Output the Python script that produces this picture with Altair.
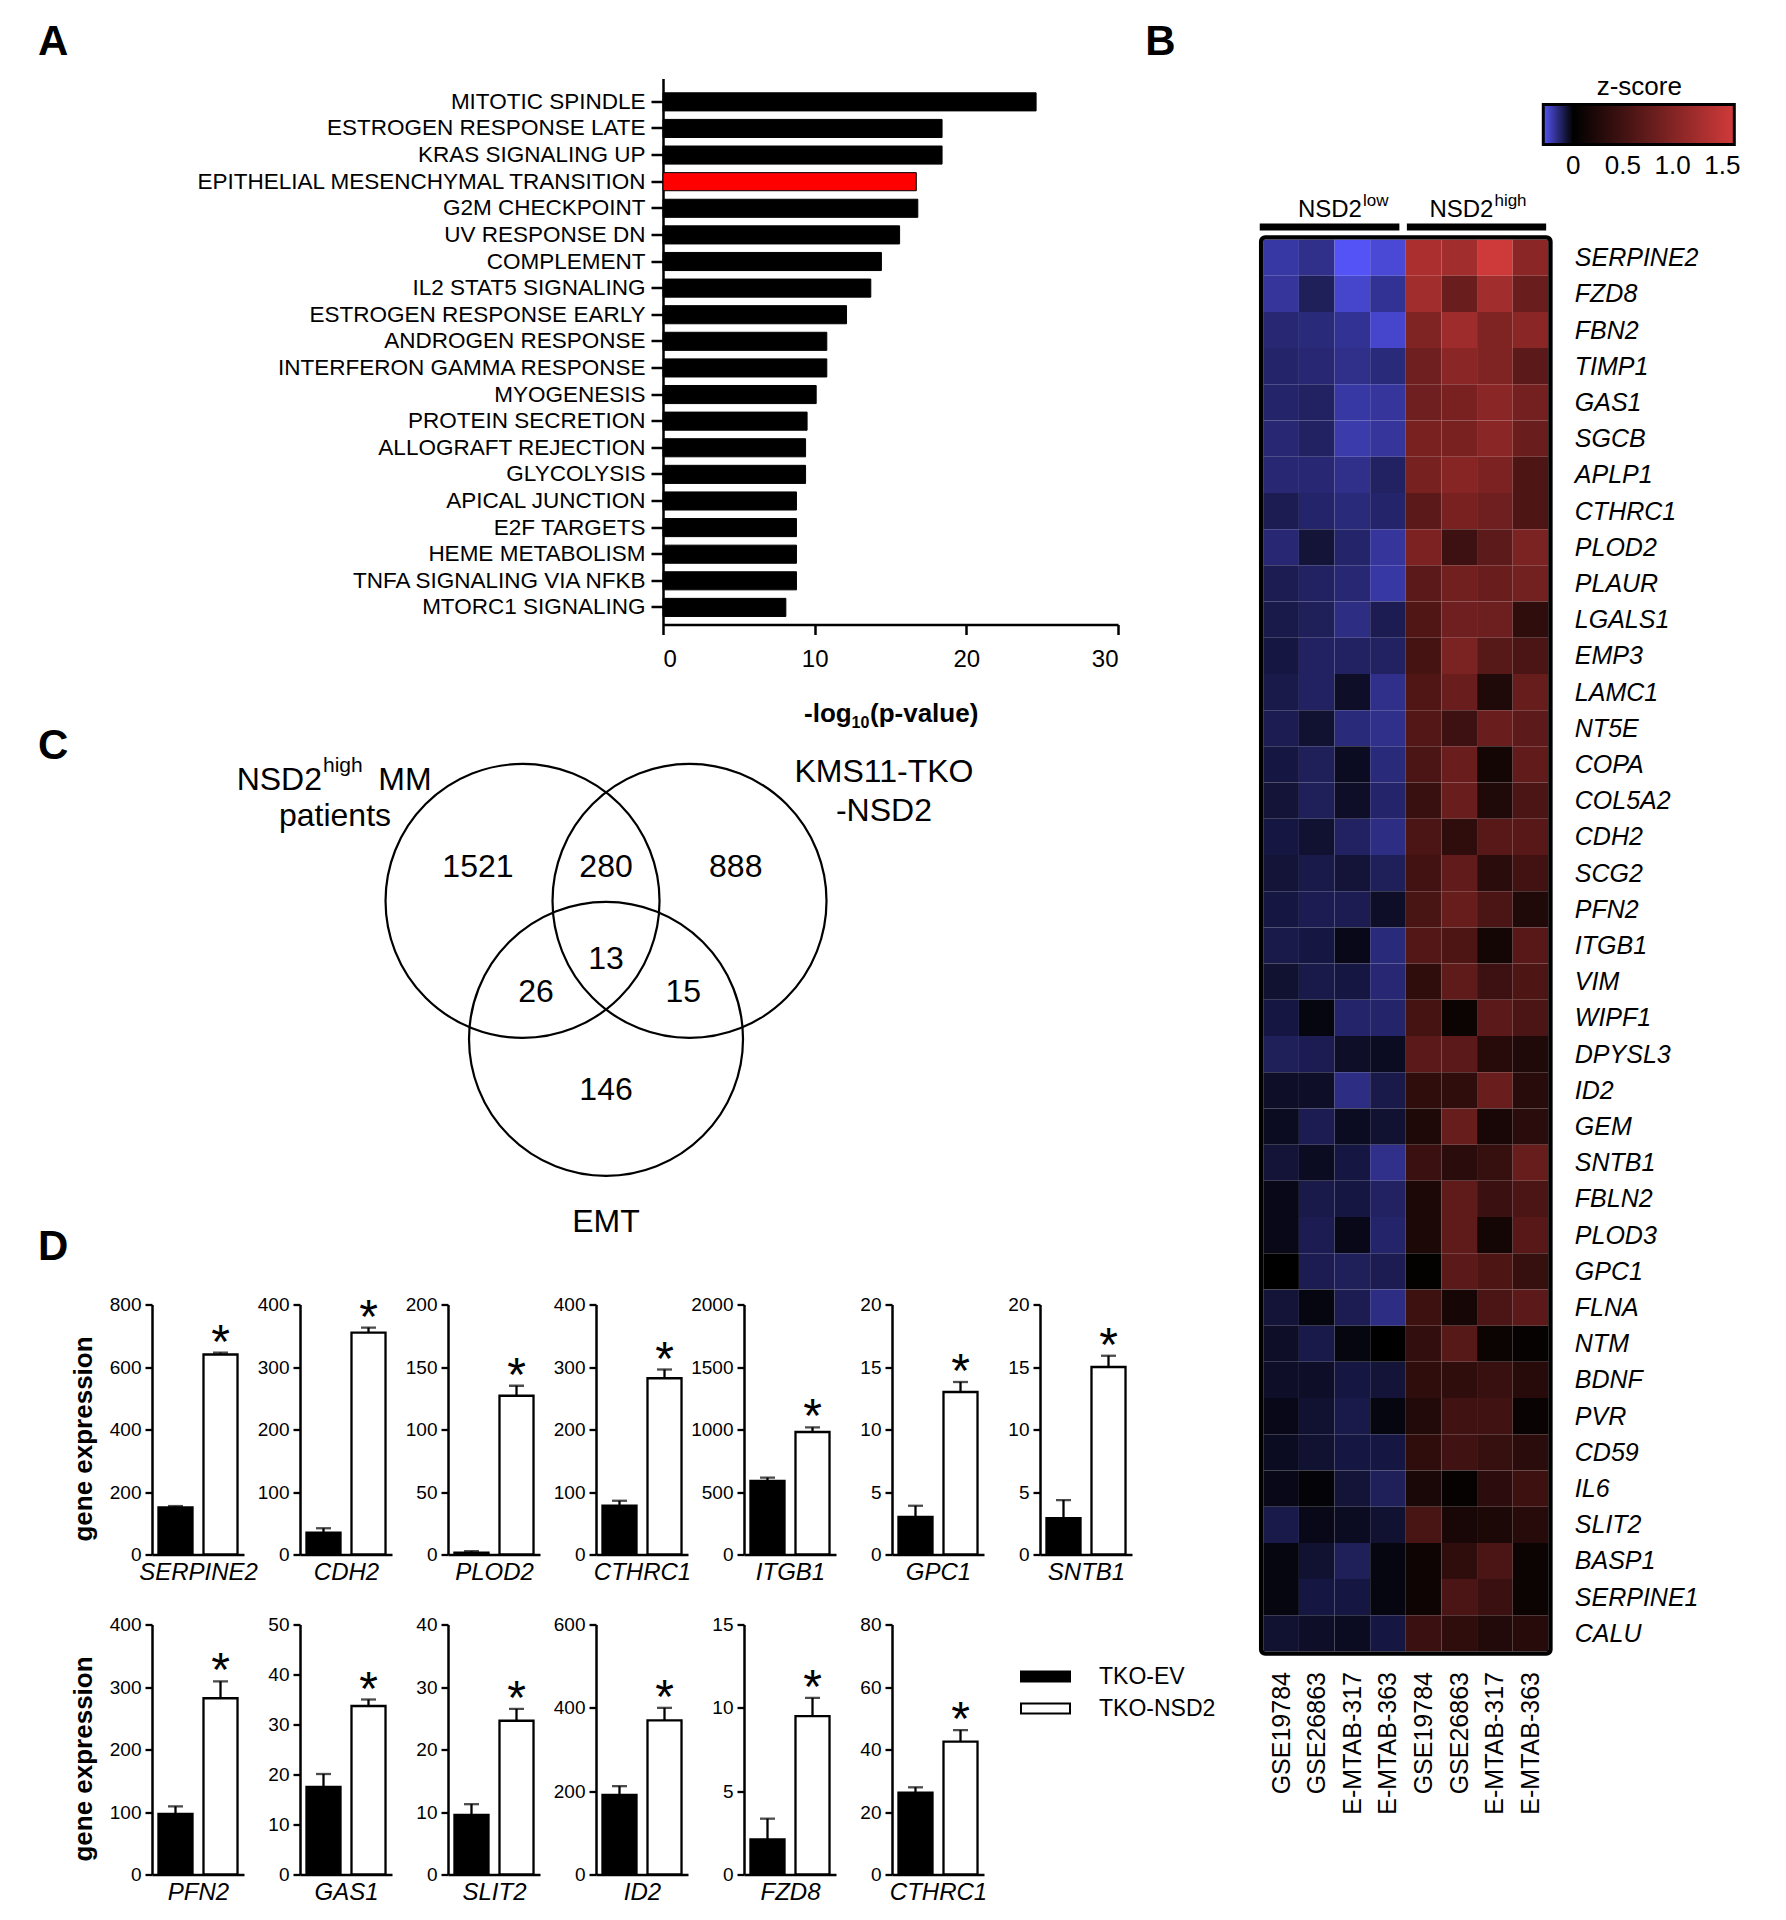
import json
import altair as alt
import pandas as pd

FONT = "Liberation Sans"

# ---------------- Panel A : hallmark enrichment ----------------
pathways = ["MITOTIC SPINDLE", "ESTROGEN RESPONSE LATE", "KRAS SIGNALING UP",
            "EPITHELIAL MESENCHYMAL TRANSITION", "G2M CHECKPOINT", "UV RESPONSE DN",
            "COMPLEMENT", "IL2 STAT5 SIGNALING", "ESTROGEN RESPONSE EARLY",
            "ANDROGEN RESPONSE", "INTERFERON GAMMA RESPONSE", "MYOGENESIS",
            "PROTEIN SECRETION", "ALLOGRAFT REJECTION", "GLYCOLYSIS", "APICAL JUNCTION",
            "E2F TARGETS", "HEME METABOLISM", "TNFA SIGNALING VIA NFKB", "MTORC1 SIGNALING"]
neglog10p = [24.6, 18.4, 18.4, 16.7, 16.8, 15.6, 14.4, 13.7, 12.1, 10.8,
             10.8, 10.1, 9.5, 9.4, 9.4, 8.8, 8.8, 8.8, 8.8, 8.1]
highlight = "EPITHELIAL MESENCHYMAL TRANSITION"
axisA_ticks = [0, 10, 20, 30]
axisA_title_parts = ["-log", "10", "(p-value)"]

# ---------------- Panel B : heatmap ----------------
genes = ["SERPINE2", "FZD8", "FBN2", "TIMP1", "GAS1", "SGCB", "APLP1", "CTHRC1", "PLOD2",
         "PLAUR", "LGALS1", "EMP3", "LAMC1", "NT5E", "COPA", "COL5A2", "CDH2", "SCG2",
         "PFN2", "ITGB1", "VIM", "WIPF1", "DPYSL3", "ID2", "GEM", "SNTB1", "FBLN2",
         "PLOD3", "GPC1", "FLNA", "NTM", "BDNF", "PVR", "CD59", "IL6", "SLIT2", "BASP1",
         "SERPINE1", "CALU"]
datasets = ["GSE19784", "GSE26863", "E-MTAB-317", "E-MTAB-363"]
sample_labels = datasets + datasets
z_low = [
    [-0.20, -0.17, -0.31, -0.26], [-0.19, -0.11, -0.25, -0.18], [-0.14, -0.15, -0.18, -0.25],
    [-0.13, -0.14, -0.17, -0.15], [-0.13, -0.12, -0.20, -0.19], [-0.14, -0.12, -0.21, -0.19],
    [-0.14, -0.14, -0.17, -0.12], [-0.10, -0.13, -0.15, -0.13], [-0.14, -0.07, -0.13, -0.19],
    [-0.10, -0.12, -0.14, -0.20], [-0.09, -0.11, -0.16, -0.10], [-0.08, -0.12, -0.12, -0.12],
    [-0.09, -0.12, -0.05, -0.17], [-0.10, -0.06, -0.15, -0.17], [-0.08, -0.11, -0.04, -0.15],
    [-0.07, -0.11, -0.05, -0.13], [-0.08, -0.06, -0.12, -0.16], [-0.07, -0.09, -0.07, -0.11],
    [-0.08, -0.10, -0.10, -0.05], [-0.09, -0.08, -0.03, -0.15], [-0.06, -0.09, -0.08, -0.14],
    [-0.08, -0.02, -0.13, -0.13], [-0.11, -0.10, -0.05, -0.04], [-0.05, -0.05, -0.16, -0.09],
    [-0.04, -0.10, -0.04, -0.06], [-0.07, -0.04, -0.08, -0.17], [-0.03, -0.09, -0.08, -0.12],
    [-0.03, -0.10, -0.03, -0.13], [0.00, -0.10, -0.11, -0.10], [-0.07, -0.02, -0.10, -0.16],
    [-0.05, -0.09, -0.02, 0.00], [-0.05, -0.05, -0.08, -0.07], [-0.03, -0.06, -0.09, -0.02],
    [-0.04, -0.06, -0.08, -0.08], [-0.03, -0.01, -0.07, -0.11], [-0.09, -0.03, -0.04, -0.06],
    [-0.02, -0.06, -0.11, -0.02], [-0.02, -0.08, -0.08, -0.02], [-0.06, -0.05, -0.04, -0.08],
]
z_high = [
    [1.32, 1.25, 1.59, 1.07], [1.25, 0.82, 1.25, 0.82], [0.98, 1.23, 0.99, 1.07],
    [0.86, 1.07, 0.99, 0.70], [0.86, 0.93, 1.07, 0.90], [0.93, 0.93, 1.07, 0.82],
    [0.92, 1.04, 0.96, 0.60], [0.70, 0.93, 0.86, 0.60], [0.96, 0.47, 0.72, 0.95],
    [0.70, 0.87, 0.82, 0.89], [0.62, 0.86, 0.84, 0.37], [0.54, 0.95, 0.67, 0.58],
    [0.62, 0.82, 0.25, 0.80], [0.65, 0.47, 0.82, 0.72], [0.58, 0.82, 0.16, 0.75],
    [0.44, 0.82, 0.25, 0.58], [0.58, 0.37, 0.68, 0.68], [0.51, 0.75, 0.33, 0.51],
    [0.56, 0.80, 0.58, 0.25], [0.64, 0.60, 0.16, 0.68], [0.37, 0.73, 0.47, 0.60],
    [0.54, 0.09, 0.70, 0.58], [0.70, 0.70, 0.30, 0.25], [0.37, 0.37, 0.82, 0.31],
    [0.23, 0.80, 0.19, 0.33], [0.45, 0.33, 0.42, 0.80], [0.22, 0.73, 0.45, 0.58],
    [0.22, 0.73, 0.16, 0.68], [0.03, 0.70, 0.60, 0.42], [0.48, 0.17, 0.58, 0.70],
    [0.39, 0.67, 0.09, 0.05], [0.37, 0.36, 0.44, 0.30], [0.27, 0.50, 0.50, 0.08],
    [0.37, 0.50, 0.42, 0.33], [0.20, 0.05, 0.34, 0.48], [0.56, 0.19, 0.22, 0.30],
    [0.11, 0.37, 0.58, 0.09], [0.11, 0.58, 0.45, 0.09], [0.45, 0.36, 0.27, 0.30],
]
zscore_ticks = [0, 0.5, 1.0, 1.5]
nsd2_groups = ["low", "high"]

# ---------------- Panel C : Venn ----------------
venn_sets = ["NSD2high MM patients", "KMS11-TKO-NSD2", "EMT"]
venn_cx = [-0.605, 0.605, 0.0]
venn_cy = [0.5, 0.5, -0.5]
venn_counts = ["1521", "280", "888", "13", "26", "15", "146"]
venn_count_x = [-0.928, 0.0, 0.94, 0.0, -0.507, 0.56, 0.0]
venn_count_y = [0.745, 0.745, 0.745, 0.081, -0.161, -0.161, -0.873]

# ---------------- Panel D : qPCR bars ----------------
groups_d = ["TKO-EV", "TKO-NSD2"]
row1_genes = ["SERPINE2", "CDH2", "PLOD2", "CTHRC1", "ITGB1", "GPC1", "SNTB1"]
row1_ymax = [800, 400, 200, 400, 2000, 20, 20]
row1_step = [200, 100, 50, 100, 500, 5, 5]
row1_ev = [151, 35, 1.5, 78, 589, 3.0, 2.9]
row1_ev_err = [4, 7, 1.2, 8, 26, 0.9, 1.45]
row1_nsd2 = [640, 355, 127, 282, 980, 13.0, 15.0]
row1_nsd2_err = [6, 8, 8, 14, 37, 0.8, 0.9]

row2_genes = ["PFN2", "GAS1", "SLIT2", "ID2", "FZD8", "CTHRC1"]
row2_ymax = [400, 50, 40, 600, 15, 80]
row2_step = [100, 10, 10, 200, 5, 20]
row2_ev = [97, 17.5, 9.55, 191, 2.1, 26.2]
row2_ev_err = [12, 2.6, 1.7, 21, 1.25, 1.7]
row2_nsd2 = [282, 33.7, 24.6, 370, 9.5, 42.5]
row2_nsd2_err = [27, 1.3, 1.9, 30, 1.1, 3.7]

panel_letters = ["A", "B", "C", "D"]

COL_W = 92      # width of one small bar panel
COL_GAP = 56    # gap between grid columns
A_LEFT = 511    # panel A axis position inside the first grid column
HEAT_SHIFT = 75.3
HEAT_CELL = 285 / 8.0
ZLO, ZHI = -0.3, 1.62
GRAD_X, GRAD_LEN = 280, 191


def letter(ch, x, y):
    return alt.Chart(pd.DataFrame({"t": [ch]})).mark_text(
        fontSize=42, fontWeight="bold", align="left", baseline="top", color="black"
    ).encode(text="t:N", x=alt.value(x), y=alt.value(y))


def dummy():
    return alt.Chart(pd.DataFrame({"v": [0]})).mark_point(opacity=0).encode(
        x=alt.X("v:Q", axis=None), y=alt.Y("v:Q", axis=None)
    ).properties(width=1, height=1)


# ----- A -----
dfA = pd.DataFrame({"pathway": pathways, "value": neglog10p})
axA_y = alt.Axis(labelFontSize=22.5, labelPadding=6, labelLimit=800, tickSize=12,
                 tickWidth=2.5, domainWidth=2.5, title=None, offset=-A_LEFT)
axA_x = alt.Axis(values=axisA_ticks, tickSize=10, tickWidth=2.5, domainWidth=2.5,
                 labelFontSize=24, labelPadding=13, title=None)
barA_core = alt.Chart(dfA).mark_bar(stroke="black", strokeWidth=1).encode(
    y=alt.Y("pathway:N", sort=pathways,
            scale=alt.Scale(paddingInner=0.32, paddingOuter=0.42, align=0.64), axis=axA_y),
    x=alt.X("value:Q", scale=alt.Scale(domain=[0, 30], nice=False, range=[A_LEFT, A_LEFT + 455]),
            axis=axA_x),
    fill=alt.condition(alt.datum.pathway == highlight, alt.value("#ff0000"), alt.value("#000000")),
)
t1 = alt.Chart(pd.DataFrame({"t": [axisA_title_parts[0]]})).mark_text(
    fontSize=26, fontWeight="bold", align="left", baseline="alphabetic", color="black"
).encode(text="t:N", x=alt.value(652), y=alt.value(643))
t2 = alt.Chart(pd.DataFrame({"t": [axisA_title_parts[1]]})).mark_text(
    fontSize=16, fontWeight="bold", align="left", baseline="alphabetic", color="black"
).encode(text="t:N", x=alt.value(699.5), y=alt.value(649))
t3 = alt.Chart(pd.DataFrame({"t": [axisA_title_parts[2]]})).mark_text(
    fontSize=26, fontWeight="bold", align="left", baseline="alphabetic", color="black"
).encode(text="t:N", x=alt.value(718), y=alt.value(643))
barA = alt.layer(barA_core, t1, t2, t3, letter(panel_letters[0], -114, -56.5)).properties(
    width=COL_W, height=546)

# ----- B -----
rows = []
for i, g in enumerate(genes):
    for j in range(4):
        rows.append({"gene": g, "r0": i, "r1": i + 1, "c0": j, "c1": j + 1, "z": z_low[i][j]})
        rows.append({"gene": g, "r0": i, "r1": i + 1, "c0": 4 + j, "c1": 5 + j, "z": z_high[i][j]})
dfH = pd.DataFrame(rows)

hx = alt.Scale(domain=[0, 8], nice=False, zero=False, range=[HEAT_SHIFT, HEAT_SHIFT + 285])
hy = alt.Scale(domain=[0, 39], range=[161, 1573], nice=False, zero=False)
col_axis = alt.Axis(values=[i + 0.5 for i in range(8)],
                    labelExpr=json.dumps(sample_labels) + "[floor(datum.value)]",
                    labelAngle=270, labelFontSize=25, labelPadding=20, ticks=False,
                    domain=False, title=None, offset=1027, labelOverlap=False, grid=False)
gene_axis = alt.Axis(orient="right", values=[i + 0.5 for i in range(39)],
                     labelExpr=json.dumps(genes) + "[floor(datum.value)]",
                     labelFontSize=25, labelFontStyle="italic", labelPadding=26, ticks=False,
                     domain=False, title=None, labelOverlap=False, grid=False)
zlegend = alt.Legend(orient="none", legendX=GRAD_X + HEAT_SHIFT, legendY=-5,
                     direction="horizontal",
                     gradientLength=GRAD_LEN, gradientThickness=40, gradientStrokeColor="black",
                     gradientStrokeWidth=3, title="z-score", titleFontSize=26,
                     titleFontWeight="normal", titleAnchor="middle", titlePadding=5,
                     titleColor="black", labelFontSize=26, labelColor="black", labelOffset=8,
                     values=zscore_ticks, labelOverlap=False,
                     labelExpr="datum.value == 0 ? '0' : format(datum.value, '.1f')")
cells = alt.Chart(dfH).mark_rect().encode(
    x=alt.X("c0:Q", scale=hx, axis=col_axis), x2="c1:Q",
    y=alt.Y("r0:Q", scale=hy, axis=gene_axis), y2="r1:Q",
    color=alt.Color("z:Q", scale=alt.Scale(domain=[ZLO, 0, ZHI],
                                           range=["#5454f6", "#000000", "#d23a3a"],
                                           interpolate="rgb", clamp=True), legend=zlegend),
)
border = alt.Chart(pd.DataFrame({"x0": [-0.06], "x1": [8.06], "y0": [-0.06], "y1": [39.06]})).mark_rect(
    fillOpacity=0, stroke="black", strokeWidth=4.4, cornerRadius=4
).encode(x=alt.X("x0:Q", scale=hx, axis=col_axis), x2="x1:Q",
         y=alt.Y("y0:Q", scale=hy, axis=gene_axis), y2="y1:Q")
dfG = pd.DataFrame({"grp": nsd2_groups, "x0": [-0.1, 4.03], "x1": [3.82, 7.94],
                    "xl": [2.77, 6.46]})
gbars = alt.Chart(dfG).mark_rule(color="black", strokeWidth=7).encode(
    x=alt.X("x0:Q", scale=hx, axis=col_axis), x2="x1:Q", y=alt.value(148.5))
glab = alt.Chart(dfG).mark_text(text="NSD2", align="right", baseline="alphabetic",
                                fontSize=24, color="black").encode(
    x=alt.X("xl:Q", scale=hx, axis=col_axis), y=alt.value(138.7))
gsup = alt.Chart(dfG).mark_text(align="left", baseline="alphabetic", fontSize=17,
                                color="black", dx=1).encode(
    x=alt.X("xl:Q", scale=hx, axis=col_axis), y=alt.value(127.7), text="grp:N")
# small tick marks drawn inside the colour bar at the labelled z-scores
tick_df = pd.DataFrame({"v": zscore_ticks})
zt_base = alt.Chart(tick_df).transform_calculate(
    xd=f"({GRAD_X} + {GRAD_LEN} * (datum.v - ({ZLO})) / ({ZHI} - ({ZLO}))) / {HEAT_CELL}")
zt_top = zt_base.mark_rule(color="black", strokeWidth=2).encode(
    x=alt.X("xd:Q", scale=hx, axis=col_axis), y=alt.value(26), y2=alt.value(35))
zt_bot = zt_base.mark_rule(color="black", strokeWidth=2).encode(
    x=alt.X("xd:Q", scale=hx, axis=col_axis), y=alt.value(57), y2=alt.value(66))
heat = alt.layer(cells, border, gbars, glab, gsup, zt_top, zt_bot,
                 letter(panel_letters[1], -118 + HEAT_SHIFT, -56.5)).properties(
    width=HEAT_SHIFT + 285, height=546)

# ----- C -----
xs_v = alt.Scale(domain=[-3.290, 3.710], nice=False, zero=False, range=[0, 966])
ys_v = alt.Scale(domain=[-1.917, 1.996], nice=False, zero=False)
dfC = pd.DataFrame({"set": venn_sets, "cx": venn_cx, "cy": venn_cy})
circles = alt.Chart(dfC).mark_point(shape="circle", filled=False, size=274 * 274,
                                    color="black", strokeWidth=2.2, opacity=1).encode(
    x=alt.X("cx:Q", scale=xs_v, axis=None), y=alt.Y("cy:Q", scale=ys_v, axis=None))
dfN = pd.DataFrame({"t": venn_counts, "x": venn_count_x, "y": venn_count_y})
counts = alt.Chart(dfN).mark_text(fontSize=32, baseline="middle", color="black").encode(
    x=alt.X("x:Q", scale=xs_v, axis=None), y=alt.Y("y:Q", scale=ys_v, axis=None), text="t:N")
dfL = pd.DataFrame({
    "t": ["NSD2", "high", "MM", "patients", "KMS11-TKO", "-NSD2", "EMT"],
    "x": [-2.058, -2.051, -1.650, -1.964, 2.014, 2.014, 0.0],
    "y": [1.373, 1.475, 1.373, 1.112, 1.437, 1.149, -1.828],
    "a": ["right", "left", "left", "center", "center", "center", "center"],
    "s": [32, 21, 32, 32, 32, 32, 32],
})
vlabels = []
for al in ["right", "left", "center"]:
    for sz in [32, 21]:
        sub = dfL[(dfL["a"] == al) & (dfL["s"] == sz)]
        if len(sub) == 0:
            continue
        vlabels.append(alt.Chart(sub).mark_text(fontSize=sz, align=al, baseline="middle",
                                                color="black").encode(
            x=alt.X("x:Q", scale=xs_v, axis=None), y=alt.Y("y:Q", scale=ys_v, axis=None),
            text="t:N"))
venn = alt.layer(circles, counts, *vlabels,
                 letter(panel_letters[2], -114, 31)).properties(width=COL_W, height=540)


# ----- D -----
def d_chart(gene, ymax, step, ev, ev_err, nsd, nsd_err, first=False, extra=None):
    df = pd.DataFrame({"group": groups_d, "mean": [ev, nsd], "err": [ev_err, nsd_err]})
    df["upper"] = df["mean"] + df["err"]
    xenc = alt.X("group:N", sort=groups_d,
                 scale=alt.Scale(domain=groups_d, paddingInner=0.244, paddingOuter=0.144),
                 axis=alt.Axis(labels=False, ticks=False, domainWidth=2.5, title=gene,
                               titleFontStyle="italic", titleFontWeight="normal",
                               titleFontSize=24, titlePadding=6))
    common = dict(values=list(range(0, ymax + 1, step)), format="d", tickSize=7, tickWidth=2.3,
                  domainWidth=2.5, labelFontSize=19, labelPadding=4, grid=False)
    if first:
        yaxis = alt.Axis(title="gene expression", titleFontSize=26, titleFontWeight="bold",
                         titleX=-69, titleY=134, titleAngle=270, titleAlign="center",
                         titleBaseline="middle", **common)
    else:
        yaxis = alt.Axis(title=None, **common)
    ysc = alt.Scale(domain=[0, ymax], nice=False, zero=True)
    base = alt.Chart(df)
    bars = base.mark_bar(stroke="black", strokeWidth=2.3).encode(
        x=xenc, y=alt.Y("mean:Q", scale=ysc, axis=yaxis),
        fill=alt.Fill("group:N", scale=alt.Scale(domain=groups_d, range=["black", "white"]),
                      legend=None))
    rule = base.mark_rule(color="black", strokeWidth=2.3).encode(
        x=xenc, y=alt.Y("mean:Q", scale=ysc, axis=yaxis), y2="upper:Q")
    cap = base.mark_tick(color="black", orient="horizontal", size=15, thickness=2.3).encode(
        x=xenc, y=alt.Y("upper:Q", scale=ysc, axis=yaxis))
    star = base.transform_filter(alt.datum.group == "TKO-NSD2").mark_text(
        text="*", fontSize=48, dy=5, baseline="alphabetic", color="black").encode(
        x=xenc, y=alt.Y("upper:Q", scale=ysc, axis=yaxis))
    layers = [rule, cap, bars, star]
    if extra is not None:
        layers.append(extra)
    return alt.layer(*layers).properties(width=COL_W, height=250)


row1 = [d_chart(row1_genes[i], row1_ymax[i], row1_step[i], row1_ev[i], row1_ev_err[i],
                row1_nsd2[i], row1_nsd2_err[i], first=(i == 0),
                extra=letter(panel_letters[3], -114, -78) if i == 0 else None)
        for i in range(7)]
row2 = [d_chart(row2_genes[i], row2_ymax[i], row2_step[i], row2_ev[i], row2_ev_err[i],
                row2_nsd2[i], row2_nsd2_err[i], first=(i == 0))
        for i in range(6)]

leg_df = pd.DataFrame({"group": groups_d})
ly = alt.Y("group:N", sort=groups_d,
           scale=alt.Scale(type="point", domain=groups_d, range=[52, 84], padding=0), axis=None)
leg_sym = alt.Chart(leg_df).mark_point(shape="M-1,-0.2L1,-0.2L1,0.2L-1,0.2Z", size=2401,
                                       filled=True, stroke="black", strokeWidth=2,
                                       opacity=1).encode(
    x=alt.value(5.5), y=ly,
    fill=alt.Fill("group:N", scale=alt.Scale(domain=groups_d, range=["black", "white"]),
                  legend=None))
leg_txt = alt.Chart(leg_df).mark_text(align="left", baseline="middle", fontSize=23,
                                      color="black").encode(
    x=alt.value(59), y=ly, text="group:N")
legend_chart = alt.layer(leg_sym, leg_txt).properties(width=40, height=250)

items = ([barA] + [dummy() for _ in range(6)] + [heat]
         + [venn] + [dummy() for _ in range(7)]
         + row1 + [dummy()]
         + row2 + [legend_chart, dummy()])

chart = alt.concat(
    *items, columns=8, spacing={"row": 70, "column": COL_GAP},
    align={"row": "each", "column": "each"}, bounds="flush",
).resolve_scale(color="independent").properties(
    padding={"left": 30, "top": 12.5, "right": 10, "bottom": 10}
).configure(font=FONT).configure_view(stroke=None).configure_axis(
    grid=False, labelColor="black", titleColor="black", domainColor="black",
    tickColor="black", labelFont=FONT, titleFont=FONT
).configure_text(font=FONT)

chart.save("out.html", embed_options={"renderer": "svg", "actions": False})
